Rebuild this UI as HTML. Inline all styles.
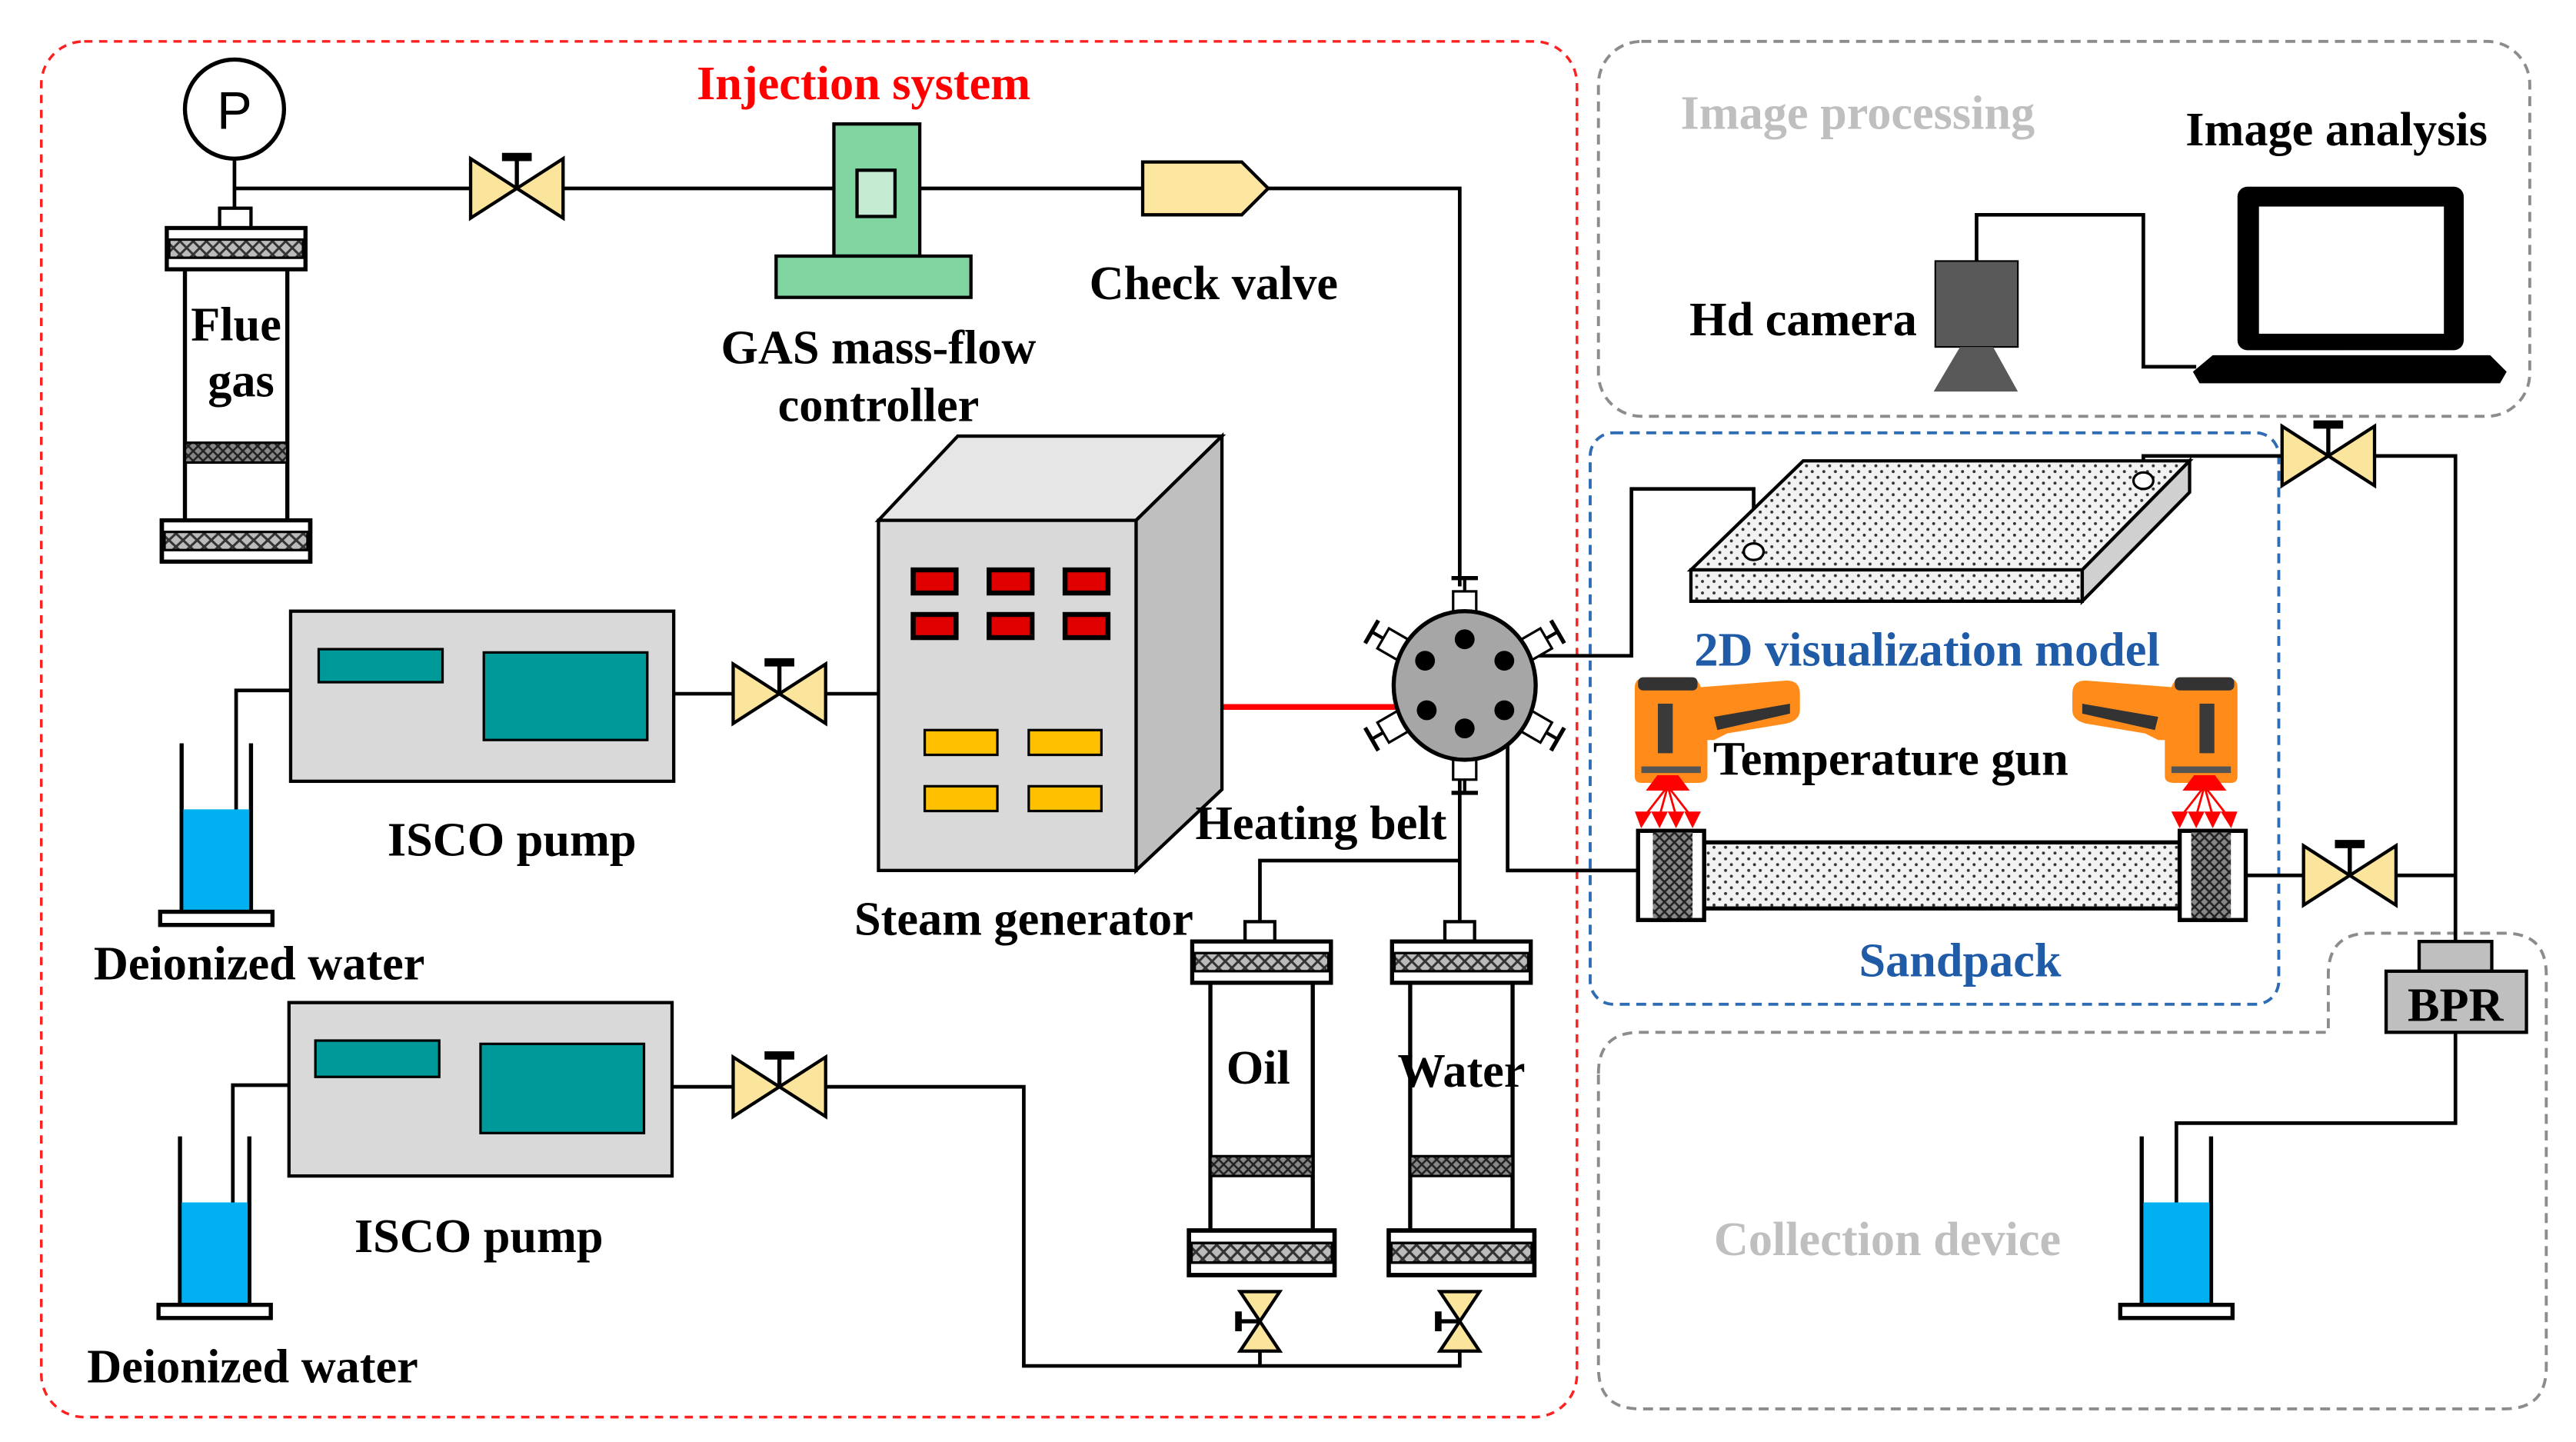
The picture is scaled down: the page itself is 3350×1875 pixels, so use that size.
<!DOCTYPE html>
<html><head><meta charset="utf-8"><style>
html,body{margin:0;padding:0;background:#fff;}
svg{display:block;}
text{font-family:"Liberation Serif",serif;font-weight:bold;font-size:29px;text-anchor:middle;}
</style></head><body>
<svg width="3350" height="1875" viewBox="0 0 1560 873" xmlns="http://www.w3.org/2000/svg">
<defs>
<pattern id="hx" width="8" height="8" patternUnits="userSpaceOnUse"><rect width="8" height="8" fill="#bbb"/><path d="M0 0L8 8M8 0L0 8" stroke="#333" stroke-width="1.4"/></pattern>
<pattern id="hd" width="6" height="6" patternUnits="userSpaceOnUse"><rect width="6" height="6" fill="#888"/><path d="M0 0L6 6M6 0L0 6" stroke="#222" stroke-width="1.2"/></pattern>
<pattern id="dots" width="7" height="7" patternUnits="userSpaceOnUse"><rect width="7" height="7" fill="#f2f2f2"/><circle cx="2" cy="2" r="0.9" fill="#333"/><circle cx="5.5" cy="5.5" r="0.9" fill="#333"/></pattern>
<g id="valveH"><polygon points="-28,-18 0,0 -28,18" fill="#fbe49b" stroke="#000" stroke-width="2"/><polygon points="28,-18 0,0 28,18" fill="#fbe49b" stroke="#000" stroke-width="2"/><line x1="0" y1="0" x2="0" y2="-18" stroke="#000" stroke-width="2.5"/><line x1="-9" y1="-19" x2="9" y2="-19" stroke="#000" stroke-width="5"/></g>
<g id="valveV"><polygon points="-12,-18 0,0 12,-18" fill="#fbe49b" stroke="#000" stroke-width="2"/><polygon points="-12,18 0,0 12,18" fill="#fbe49b" stroke="#000" stroke-width="2"/><line x1="0" y1="0" x2="-12" y2="0" stroke="#000" stroke-width="2.5"/><line x1="-13" y1="-6" x2="-13" y2="6" stroke="#000" stroke-width="4"/></g>
<g id="flange"><rect x="0" y="0" width="84" height="25" fill="#fff" stroke="#000" stroke-width="2.5"/><rect x="1.5" y="7" width="81" height="11" fill="url(#hx)" stroke="#000" stroke-width="1.5"/></g>
<g id="beaker"><path d="M13 0V102M55 0V102" stroke="#000" stroke-width="2.5" fill="none"/><rect x="14" y="40" width="40" height="62" fill="#00b0f0"/><rect x="0" y="102" width="68" height="8" fill="#fff" stroke="#000" stroke-width="2.5"/></g>
<g id="fit"><rect x="-7" y="-14" width="14" height="14" fill="#fff" stroke="#000" stroke-width="1.5"/><line x1="0" y1="-14" x2="0" y2="-22" stroke="#000" stroke-width="2"/><line x1="-8" y1="-22" x2="8" y2="-22" stroke="#000" stroke-width="2.5"/></g>
<g id="gun">
<path d="M2 2 q0 -6 8 -6 l24 0 q6 0 8 6 l52 -4 q8 0 8 8 l0 10 q0 6 -8 8 l-36 6 l-8 4 l-4 0 l0 12 l0 10 q0 4 -6 4 l-34 0 q-4 0 -4 -4z" fill="#ff8c1a"/>
<rect x="4" y="-4" width="36" height="8" rx="3" fill="#333"/>
<rect x="16" y="12" width="9" height="30" fill="#3a3a3a"/>
<path d="M50 20 l46 -8 l0 6 l-44 10z" fill="#333"/>
<rect x="6" y="50" width="36" height="4" fill="#555"/>
<g fill="#ff0000" stroke="#f00" stroke-width="1.3">
<polygon points="10,64 34,64 28,56 16,56"/>
<line x1="22" y1="62" x2="8" y2="80"/><line x1="22" y1="62" x2="17" y2="80"/><line x1="22" y1="62" x2="27" y2="80"/><line x1="22" y1="62" x2="36" y2="80"/>
<polygon points="3,78 11,78 6,86"/><polygon points="13,78 21,78 17,86"/><polygon points="23,78 31,78 27,86"/><polygon points="33,78 41,78 37,86"/></g></g>
</defs>

<!-- boundaries -->
<rect x="25" y="25" width="930" height="833" rx="26" fill="none" stroke="#ff2020" stroke-width="1.6" stroke-dasharray="5,4"/>
<rect x="968" y="25" width="564" height="227" rx="26" fill="none" stroke="#8c8c8c" stroke-width="1.8" stroke-dasharray="6,4"/>
<rect x="963" y="262" width="417" height="346" rx="14" fill="none" stroke="#2e6db4" stroke-width="1.8" stroke-dasharray="6,4"/>
<path d="M968 650 Q968 625 993 625 H1410 V590 Q1410 565 1435 565 H1517 Q1542 565 1542 590 V828 Q1542 853 1517 853 H993 Q968 853 968 828 Z" fill="none" stroke="#8c8c8c" stroke-width="1.8" stroke-dasharray="6,4"/>

<!-- pipes -->
<g stroke="#000" stroke-width="2.2" fill="none">
<path d="M142 96V126M142 114H505M557 114H692M768 114H884V355"/>
<path d="M408 420H532"/>
<path d="M176 418H143V520"/>
<path d="M407 658H620V827H884V812"/>
<path d="M763 812V827"/>
<path d="M884 470V558"/>
<path d="M175 657H141V757"/>
<path d="M763 558V521H884"/>
<path d="M909 397H988V296H1062V330"/>
<path d="M913 430V527H992"/>
<path d="M1360 530H1487"/>
<path d="M1298 290V276H1487V570"/>
<path d="M1487 625V680H1318V760"/>
<path d="M1197 158V130H1298V222H1330"/>
</g>
<line x1="740" y1="428" x2="866" y2="428" stroke="#ff0000" stroke-width="3.5"/>

<!-- gauge & flue gas -->
<circle cx="142" cy="66" r="30" fill="#fff" stroke="#000" stroke-width="2.5"/>
<text x="142" y="78" style="font-family:'Liberation Sans',sans-serif;font-weight:normal;font-size:32px">P</text>
<rect x="133" y="126" width="19" height="12" fill="#fff" stroke="#000" stroke-width="2"/>
<use href="#flange" x="101" y="138"/>
<path d="M112 163V315M174 163V315" stroke="#000" stroke-width="2.5"/>
<rect x="112" y="268" width="62" height="12" fill="url(#hd)" stroke="#000" stroke-width="1.5"/>
<g transform="translate(98,315) scale(1.07,1)"><use href="#flange"/></g>
<text x="143" y="206">Flue</text><text x="146" y="240">gas</text>

<use href="#valveH" x="313" y="114"/>
<!-- MFC -->
<rect x="505" y="75" width="52" height="80" fill="#80d5a0" stroke="#000" stroke-width="2"/>
<rect x="519" y="103" width="23" height="28" fill="#c5ecd3" stroke="#000" stroke-width="2"/>
<rect x="470" y="155" width="118" height="25" fill="#80d5a0" stroke="#000" stroke-width="2"/>
<polygon points="692,98 752,98 768,114 752,130 692,130" fill="#fde7a0" stroke="#000" stroke-width="2"/>
<text x="523" y="60" fill="#ff0000">Injection system</text>
<text x="735" y="181">Check valve</text>
<text x="532" y="220">GAS mass-flow</text>
<text x="532" y="255">controller</text>

<!-- steam generator -->
<polygon points="532,315 580,264 740,264 688,315" fill="#e6e6e6" stroke="#000" stroke-width="2"/>
<polygon points="688,315 740,264 740,478 688,527" fill="#bfbfbf" stroke="#000" stroke-width="2"/>
<rect x="532" y="315" width="156" height="212" fill="#d9d9d9" stroke="#000" stroke-width="2"/>
<g fill="#e00000" stroke="#000" stroke-width="3">
<rect x="553" y="345" width="26" height="14"/><rect x="599" y="345" width="26" height="14"/><rect x="645" y="345" width="26" height="14"/>
<rect x="553" y="372" width="26" height="14"/><rect x="599" y="372" width="26" height="14"/><rect x="645" y="372" width="26" height="14"/></g>
<g fill="#ffc000" stroke="#000" stroke-width="1.5">
<rect x="560" y="442" width="44" height="15"/><rect x="623" y="442" width="44" height="15"/>
<rect x="560" y="476" width="44" height="15"/><rect x="623" y="476" width="44" height="15"/></g>
<text x="620" y="566">Steam generator</text>

<!-- ISCO pumps -->
<rect x="176" y="370" width="232" height="103" fill="#d9d9d9" stroke="#000" stroke-width="2"/>
<rect x="193" y="393" width="75" height="20" fill="#009999" stroke="#000" stroke-width="1.5"/>
<rect x="293" y="395" width="99" height="53" fill="#009999" stroke="#000" stroke-width="1.5"/>
<use href="#valveH" x="472" y="420"/>
<use href="#beaker" x="97" y="450"/>
<text x="310" y="518">ISCO pump</text>
<text x="157" y="593">Deionized water</text>

<rect x="175" y="607" width="232" height="105" fill="#d9d9d9" stroke="#000" stroke-width="2"/>
<rect x="191" y="630" width="75" height="22" fill="#009999" stroke="#000" stroke-width="1.5"/>
<rect x="291" y="632" width="99" height="54" fill="#009999" stroke="#000" stroke-width="1.5"/>
<use href="#valveH" x="472" y="658"/>
<use href="#beaker" x="96" y="688"/>
<text x="290" y="758">ISCO pump</text>
<text x="153" y="837">Deionized water</text>

<!-- oil & water -->
<rect x="754" y="558" width="18" height="12" fill="#fff" stroke="#000" stroke-width="2"/>
<use href="#flange" x="722" y="570"/>
<path d="M733 595V745M795 595V745" stroke="#000" stroke-width="2.5"/>
<rect x="733" y="700" width="62" height="12" fill="url(#hd)" stroke="#000" stroke-width="1.5"/>
<g transform="translate(720,745) scale(1.05,1.08)"><use href="#flange"/></g>
<use href="#valveV" x="763" y="800"/>
<text x="762" y="656">Oil</text>

<rect x="875" y="558" width="18" height="12" fill="#fff" stroke="#000" stroke-width="2"/>
<use href="#flange" x="843" y="570"/>
<path d="M854 595V745M916 595V745" stroke="#000" stroke-width="2.5"/>
<rect x="854" y="700" width="62" height="12" fill="url(#hd)" stroke="#000" stroke-width="1.5"/>
<g transform="translate(841,745) scale(1.05,1.08)"><use href="#flange"/></g>
<use href="#valveV" x="884" y="800"/>
<text x="885" y="658">Water</text>
<text x="800" y="508">Heating belt</text>

<!-- six-port valve -->
<use href="#fit" transform="translate(887,372)"/>
<use href="#fit" transform="translate(887,458) rotate(180)"/>
<use href="#fit" transform="translate(887,415) rotate(-60) translate(0,-43)"/>
<use href="#fit" transform="translate(887,415) rotate(60) translate(0,-43)"/>
<use href="#fit" transform="translate(887,415) rotate(-120) translate(0,-43)"/>
<use href="#fit" transform="translate(887,415) rotate(120) translate(0,-43)"/>
<ellipse cx="887" cy="415" rx="43" ry="45" fill="#a6a6a6" stroke="#000" stroke-width="2.5"/>
<g fill="#000"><circle cx="887" cy="387" r="6"/><circle cx="887" cy="441" r="6"/><circle cx="863" cy="400" r="6"/><circle cx="911" cy="400" r="6"/><circle cx="864" cy="430" r="6"/><circle cx="911" cy="430" r="6"/></g>

<!-- 2D model -->
<polygon points="1024,345 1092,279 1326,279 1261,345" fill="url(#dots)" stroke="#000" stroke-width="2"/>
<polygon points="1024,345 1261,345 1261,364 1024,364" fill="url(#dots)" stroke="#000" stroke-width="2"/>
<polygon points="1261,345 1326,279 1326,298 1261,364" fill="#d0d0d0" stroke="#000" stroke-width="2"/>
<ellipse cx="1062" cy="334" rx="6" ry="5" fill="#fff" stroke="#000" stroke-width="1.5"/>
<ellipse cx="1298" cy="291" rx="6" ry="5" fill="#fff" stroke="#000" stroke-width="1.5"/>
<text x="1167" y="403" fill="#1f5ba6">2D visualization model</text>

<use href="#gun" x="988" y="414"/>
<g transform="translate(1357,414) scale(-1,1)"><use href="#gun"/></g>
<text x="1145" y="469">Temperature gun</text>

<!-- sandpack -->
<rect x="1032" y="510" width="288" height="40" fill="url(#dots)" stroke="#000" stroke-width="2.5"/>
<rect x="992" y="503" width="40" height="54" fill="#fff" stroke="#000" stroke-width="2.5"/>
<rect x="1001" y="504" width="24" height="52" fill="url(#hd)"/>
<rect x="1320" y="503" width="40" height="54" fill="#fff" stroke="#000" stroke-width="2.5"/>
<rect x="1327" y="504" width="24" height="52" fill="url(#hd)"/>
<use href="#valveH" x="1423" y="530"/>
<text x="1187" y="591" fill="#1f5ba6">Sandpack</text>

<use href="#valveH" x="1410" y="276"/>
<!-- BPR -->
<rect x="1465" y="570" width="44" height="18" fill="#bfbfbf" stroke="#000" stroke-width="2"/>
<rect x="1445" y="588" width="85" height="37" fill="#bfbfbf" stroke="#000" stroke-width="2"/>
<text x="1487" y="618">BPR</text>
<use href="#beaker" x="1284" y="688"/>
<text x="1143" y="760" fill="#bfbfbf">Collection device</text>

<!-- camera / laptop -->
<rect x="1172" y="158" width="50" height="52" fill="#595959" stroke="#000" stroke-width="1"/>
<polygon points="1187,210 1207,210 1222,237 1171,237" fill="#595959"/>
<rect x="1355" y="113" width="137" height="99" rx="6" fill="#000"/>
<rect x="1368" y="125" width="112" height="77" fill="#fff"/>
<polygon points="1340,215 1508,215 1518,225 1514,232 1332,232 1328,225" fill="#000"/>
<text x="1125" y="78" fill="#bfbfbf">Image processing</text>
<text x="1415" y="88">Image analysis</text>
<text x="1092" y="203">Hd camera</text>
</svg>
</body></html>
